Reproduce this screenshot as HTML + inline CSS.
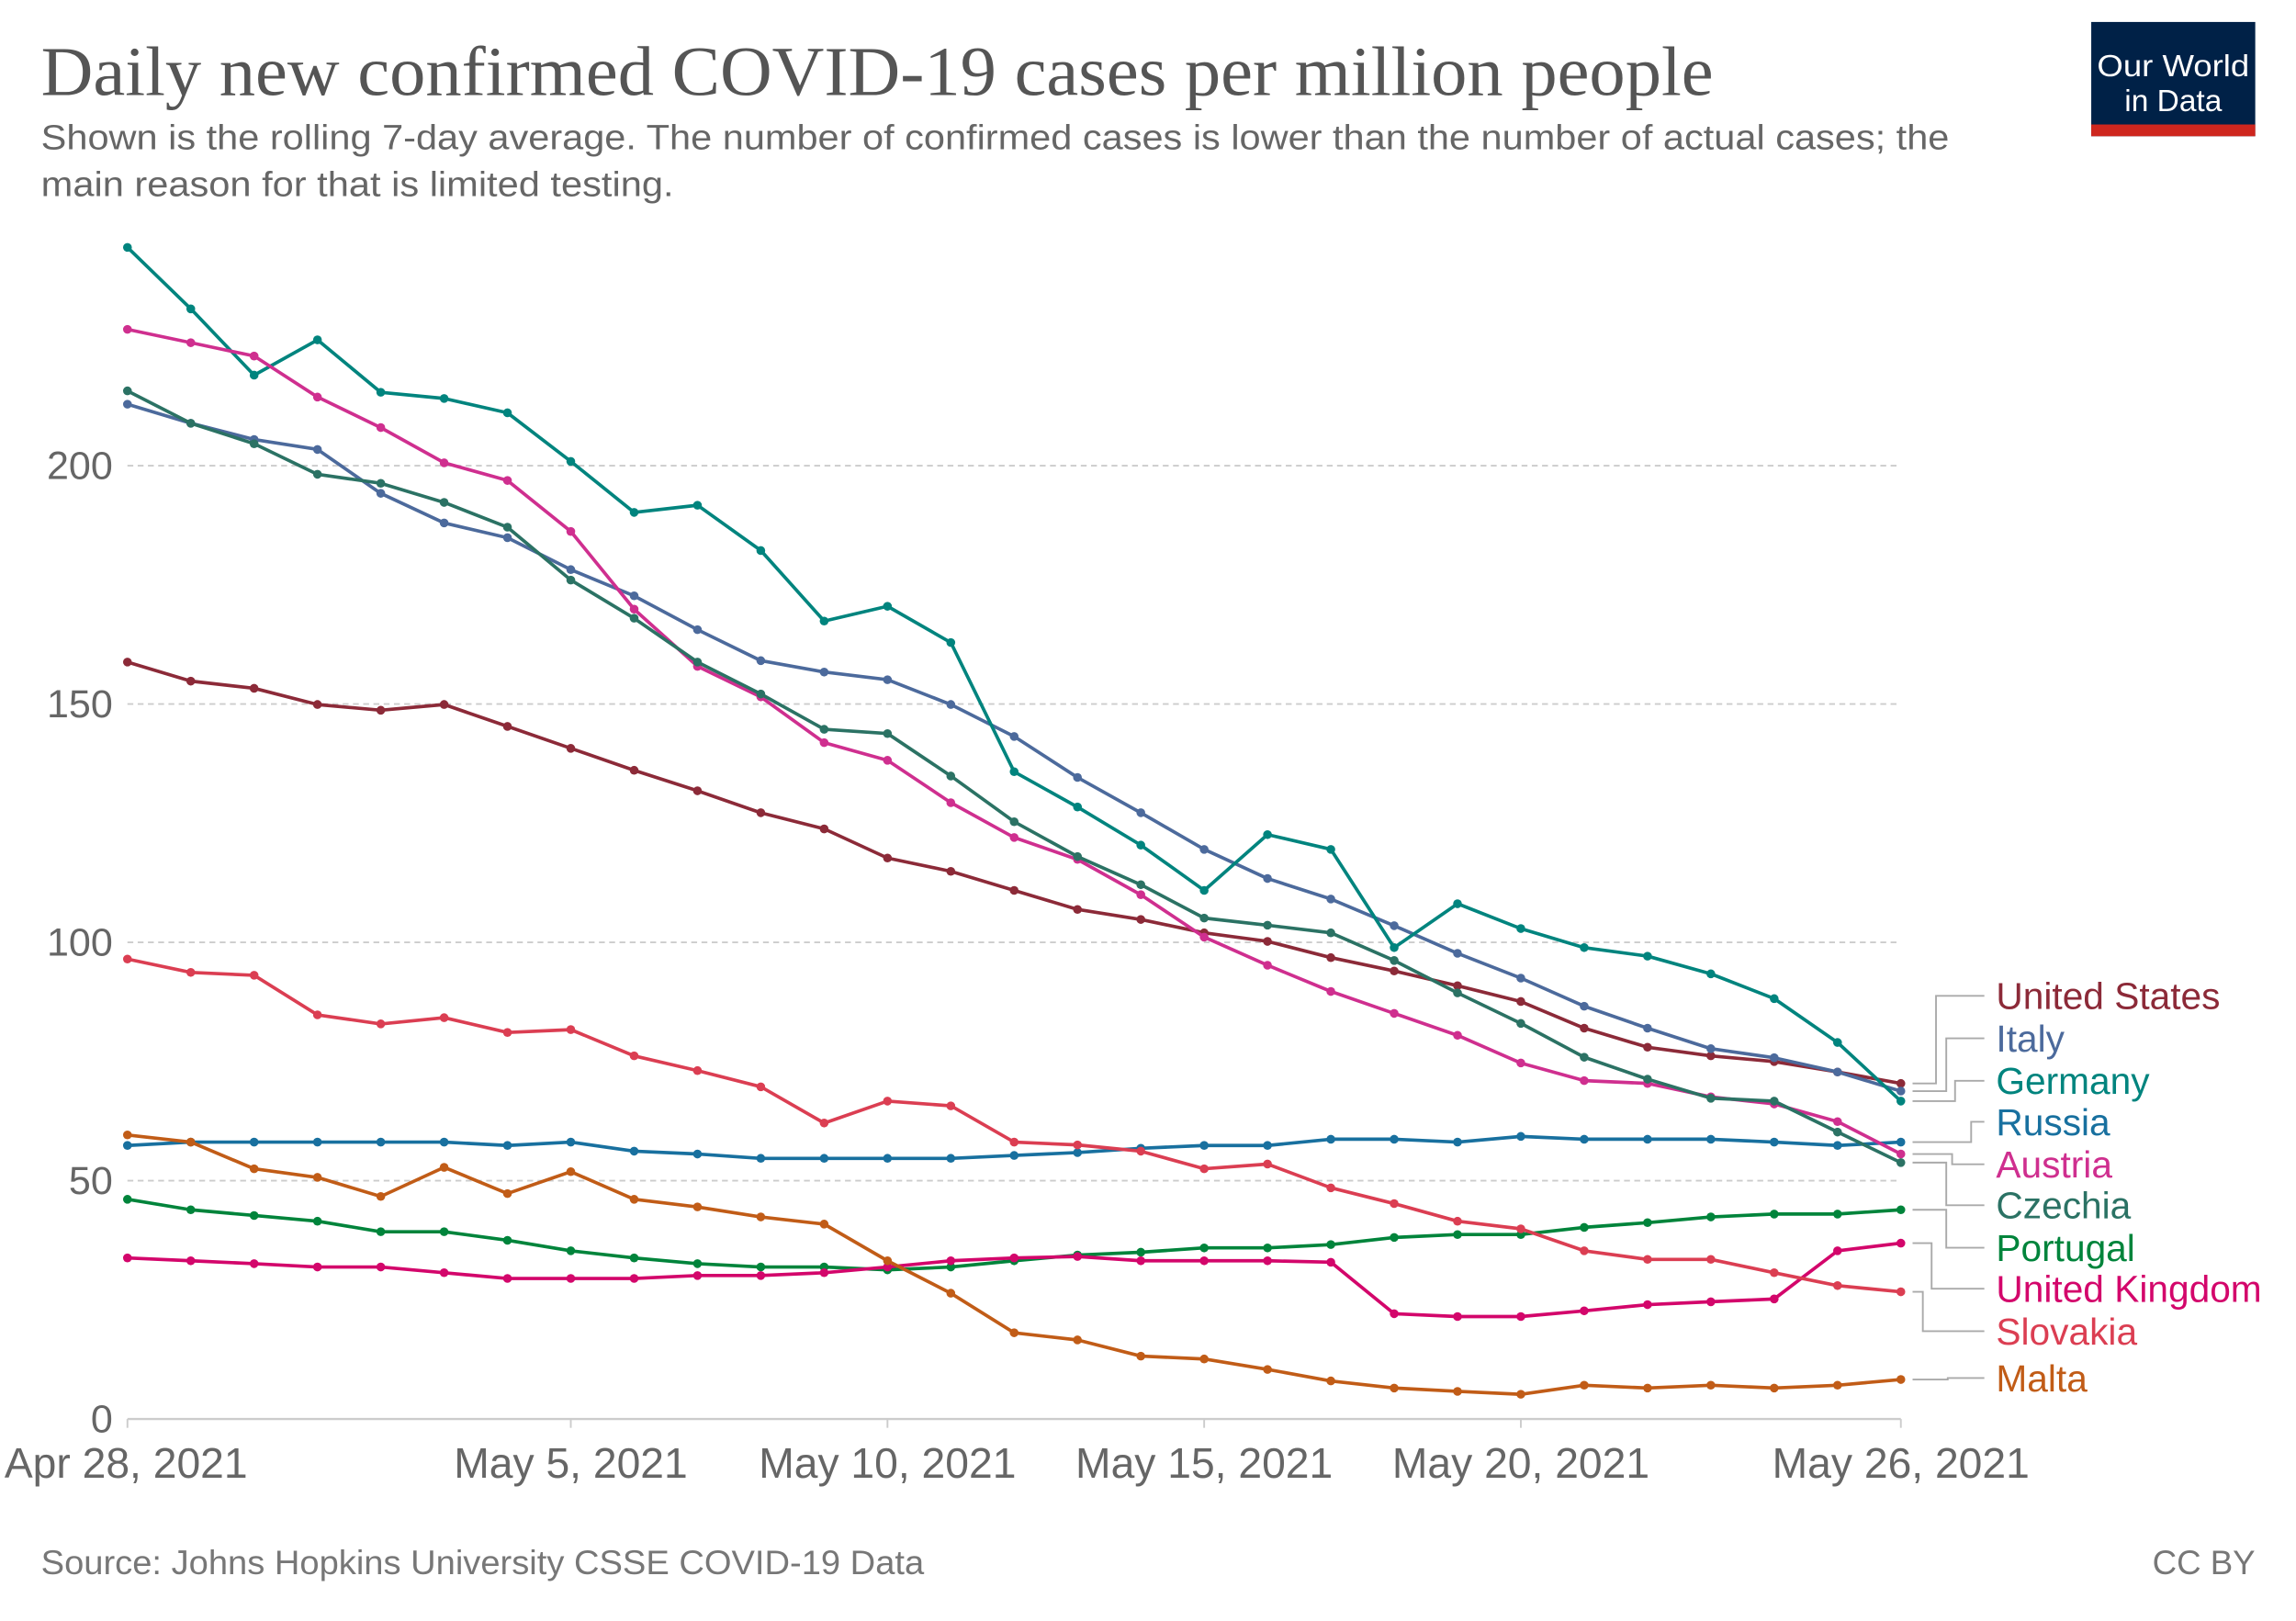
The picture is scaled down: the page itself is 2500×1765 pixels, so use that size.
<!DOCTYPE html>
<html><head><meta charset="utf-8"><style>
html,body{margin:0;padding:0;background:#fff;}
svg{display:block;}
text{font-family:"Liberation Sans",sans-serif;}
</style></head><body>
<svg id="chart" width="2500" height="1765" viewBox="0 0 1567.8 1106.9" xmlns="http://www.w3.org/2000/svg">
<text x="28" y="65" font-size="48" fill="#555" textLength="1142" lengthAdjust="spacingAndGlyphs" style="font-family:'Liberation Serif',serif">Daily new confirmed COVID-19 cases per million people</text>
<text x="28" y="102" font-size="24" fill="#666" textLength="1303" lengthAdjust="spacingAndGlyphs">Shown is the rolling 7-day average. The number of confirmed cases is lower than the number of actual cases; the</text>
<text x="28" y="134" font-size="24" fill="#666" textLength="432" lengthAdjust="spacingAndGlyphs">main reason for that is limited testing.</text>
<g>
<rect x="1428" y="15" width="112" height="78" fill="#002147"/>
<rect x="1428" y="85" width="112" height="8" fill="#ce261e"/>
<text x="1484" y="52" font-size="21" fill="#fff" text-anchor="middle" textLength="104" lengthAdjust="spacingAndGlyphs">Our World</text>
<text x="1484" y="76" font-size="21" fill="#fff" text-anchor="middle">in Data</text>
</g>
<g id="grid"></g>
<g id="series"></g>
<g id="labels"></g>
<text x="28" y="1075" font-size="23" fill="#777" textLength="603" lengthAdjust="spacingAndGlyphs">Source: Johns Hopkins University CSSE COVID-19 Data</text>
<text x="1540" y="1075" font-size="23" fill="#777" text-anchor="end">CC BY</text>
</svg>
<script>
const yTicks = [0, 50, 100, 150, 200];
const xTickDays = [0, 7, 12, 17, 22, 28];
const xTickLabels = ["Apr 28, 2021", "May 5, 2021", "May 10, 2021", "May 15, 2021", "May 20, 2021", "May 26, 2021"];
const countries = ["United States","Italy","Germany","Russia","Austria","Czechia","Portugal","United Kingdom","Slovakia","Malta"];
const colors = ["#8c2a38","#4c6a9c","#00847e","#18709f","#cf2f8f","#2b7264","#00843b","#d3066b","#db3e52","#c15c17"];
const usVals = [158.8,154.8,153.3,149.9,148.7,149.9,145.3,140.7,136.1,131.8,127.2,123.8,117.7,114.9,110.9,106.9,104.8,102.0,100.2,96.8,94.0,90.9,87.6,82.0,78.0,76.2,75.0,72.8,70.4];
const italyVals = [212.9,208.9,205.5,203.4,194.2,188.0,184.9,178.2,172.7,165.6,159.1,156.7,155.1,149.9,143.2,134.6,127.2,119.5,113.4,109.1,103.5,97.7,92.5,86.6,82.0,77.7,75.8,72.8,68.8];
const germanyVals = [245.8,232.9,219.0,226.4,215.4,214.1,211.1,200.9,190.2,191.7,182.2,167.4,170.5,162.9,135.8,128.4,120.4,110.9,122.6,119.5,98.9,108.1,102.9,98.9,97.1,93.4,88.2,79.0,66.7];
const russiaVals = [57.4,58.1,58.1,58.1,58.1,58.1,57.4,58.1,56.2,55.6,54.7,54.7,54.7,54.7,55.3,55.9,56.8,57.4,57.4,58.7,58.7,58.1,59.3,58.7,58.7,58.7,58.1,57.4,58.1];
const austriaVals = [228.6,225.8,223.0,214.4,208.0,200.6,196.9,186.2,169.9,157.9,151.5,141.9,138.2,129.3,122.0,117.4,110.0,101.1,95.2,89.7,85.1,80.5,74.7,71.0,70.4,67.6,66.1,62.4,55.6];
const czechiaVals = [215.7,208.9,204.6,198.2,196.3,192.3,187.1,176.0,168.0,158.8,152.1,144.7,143.8,134.9,125.3,118.0,112.1,105.1,103.6,102.0,96.2,89.4,83.0,75.9,71.3,67.3,66.7,60.2,53.8];
const portugalVals = [46.1,43.9,42.7,41.5,39.3,39.3,37.5,35.3,33.8,32.6,31.9,31.9,31.3,31.9,33.2,34.4,35.0,35.9,35.9,36.6,38.1,38.7,38.7,40.2,41.2,42.4,43.0,43.0,43.9];
const ukVals = [33.8,33.2,32.6,31.9,31.9,30.7,29.5,29.5,29.5,30.1,30.1,30.7,31.9,33.2,33.8,34.1,33.2,33.2,33.2,32.9,22.1,21.5,21.5,22.7,24.0,24.6,25.2,35.3,36.9];
const slovakiaVals = [96.5,93.7,93.1,84.8,82.9,84.2,81.1,81.7,76.2,73.1,69.7,62.1,66.7,65.7,58.1,57.5,56.2,52.5,53.5,48.5,45.2,41.5,39.9,35.3,33.5,33.5,30.7,28.0,26.7];
const maltaVals = [59.6,58.1,52.5,50.7,46.7,52.8,47.3,51.9,46.1,44.5,42.4,40.9,33.2,26.4,18.1,16.6,13.2,12.6,10.4,8.0,6.5,5.8,5.2,7.1,6.5,7.1,6.5,7.1,8.3];
const seriesVals = [usVals,italyVals,germanyVals,russiaVals,austriaVals,czechiaVals,portugalVals,ukVals,slovakiaVals,maltaVals];
const labelY = [680,709,738,766,795,823,852,880,909,941];

const NS="http://www.w3.org/2000/svg";
const X0=87,X1=1298,NDAYS=28,Y0=969,PXU=3.255;
function xs(d){return X0+(X1-X0)*d/NDAYS;}
function ys(v){return Y0-v*PXU;}
function mk(tag,attrs,parent){const e=document.createElementNS(NS,tag);for(const k in attrs)e.setAttribute(k,attrs[k]);parent.appendChild(e);return e;}
const grid=document.getElementById('grid');
yTicks.forEach(t=>{
  if(t>0){const l=mk('line',{x1:X0,x2:X1,y1:ys(t),y2:ys(t),stroke:'#ccc','stroke-dasharray':'4,3','stroke-width':1.2},grid);
  
  }
  const tx=mk('text',{x:77,y:ys(t)+9,'font-size':27,fill:'#666','text-anchor':'end'},grid);
  tx.textContent=t;
  
  
});
const ax=mk('line',{x1:X0,x2:X1,y1:Y0,y2:Y0,stroke:'#ccc','stroke-width':1.5},grid);


xTickDays.forEach((d,i)=>{
  const tk=mk('line',{x1:xs(d),x2:xs(d),y1:Y0,y2:Y0+6,stroke:'#ccc','stroke-width':1.2},grid);
  
  
  const anchor=i===0?'start':'middle';
  const tx=mk('text',{x:i===0?3:xs(d),y:1009,'font-size':29,fill:'#666','text-anchor':anchor},grid);
  tx.textContent=xTickLabels[i];
  
  
});
const sg=document.getElementById('series');
const lg=document.getElementById('labels');
const elbowX=[1322,1329,1335,1346,1333,1329,1329,1319,1313,1330];
countries.forEach((c,i)=>{
  const vals=seriesVals[i];
  const g=mk('g',{},sg);
  
  
  const pts=vals.map((v,d)=>xs(d).toFixed(1)+','+ys(v).toFixed(1)).join(' ');
  const pl=mk('polyline',{points:pts,fill:'none',stroke:colors[i],'stroke-width':2.3,'stroke-linejoin':'round'},g);
  
  
  vals.forEach((v,d)=>{
    const ci=mk('circle',{cx:xs(d),cy:ys(v),r:3,fill:colors[i]},g);
    
    
  });
  const ey=ys(vals[vals.length-1]);
  const con=mk('polyline',{points:`1306,${ey} ${elbowX[i]},${ey} ${elbowX[i]},${labelY[i]} 1355,${labelY[i]}`,fill:'none',stroke:'#aaa','stroke-width':1.2},lg);
  
  
  const lt=mk('text',{x:1363,y:labelY[i]+9,'font-size':25.5,fill:colors[i]},lg);
  lt.textContent=c;
  
  
});
</script>
</body></html>
